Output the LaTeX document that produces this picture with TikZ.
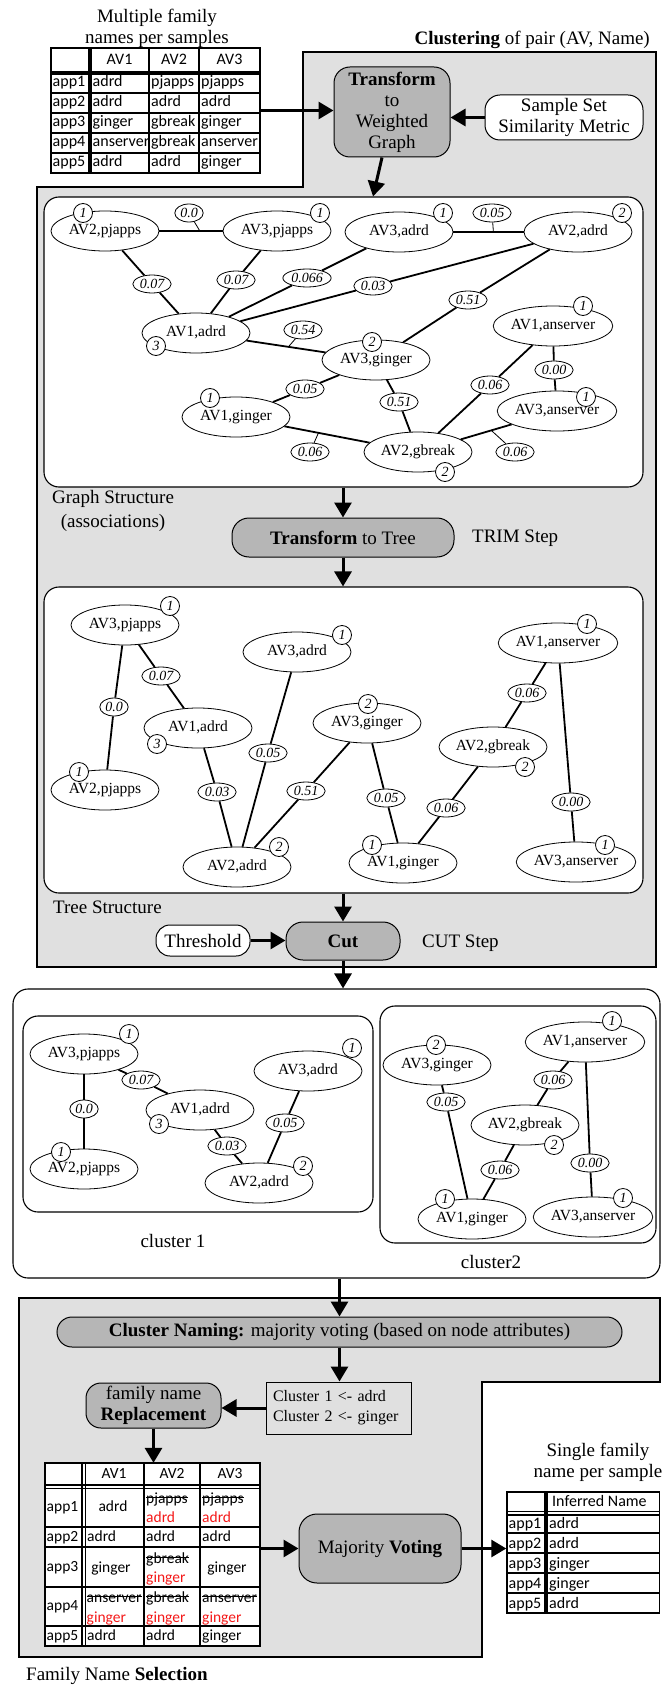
\documentclass[tikz,border=0pt]{standalone}
\usepackage{fontspec}
\setmainfont{Liberation Serif}
\newfontfamily\cellfont{Carlito}
\usetikzlibrary{shapes.geometric,arrows.meta,calc}

\definecolor{regiongray}{RGB}{224,224,224}
\definecolor{stepgray}{RGB}{182,182,182}
\definecolor{fixred}{RGB}{245,25,25}

\newcommand{\labelsize}{\fontsize{19}{21}\selectfont}
\newcommand{\nodesize}{\fontsize{15.5}{17}\selectfont}
\newcommand{\weightsize}{\fontsize{14}{16}\selectfont}
\newcommand{\cellsize}{\cellfont\fontsize{15.5}{18}\selectfont}
\newcommand{\incellsize}{\cellfont\fontsize{16}{18}\selectfont}
\newcommand{\fixed}[1]{\textcolor{fixred}{#1}}
\newsavebox\strikebox
\newcommand{\struck}[1]{\sbox\strikebox{#1}\rlap{\rule[0.3em]{\wd\strikebox}{0.9pt}}\usebox\strikebox}

\tikzset{
  av/.style={ellipse, draw, line width=0.8pt, fill=white, inner sep=0pt,
             minimum width=108pt, minimum height=40pt, font=\nodesize,
             text height=10.5pt, text depth=3.5pt},
  wt/.style={ellipse, draw, line width=0.8pt, fill=white, inner sep=1.3pt,
             minimum height=18pt, font=\weightsize\itshape},
  badge/.style={circle, draw, line width=0.8pt, fill=white, inner sep=0pt,
                minimum size=19pt, font=\weightsize\itshape},
  link/.style={line width=1.8pt},
  tickline/.style={line width=0.8pt},
  flow/.style={line width=3pt, -{Triangle[length=15pt,width=17pt]}},
  stepbox/.style={draw, line width=1pt, fill=stepgray, align=center,
                  font=\labelsize, inner sep=0pt},
  inbox/.style={draw, line width=1pt, fill=white, align=center,
                font=\labelsize, inner sep=0pt},
  panel/.style={draw, line width=1.1pt, fill=white, rounded corners=15pt, inner sep=0pt},
  region/.style={draw, line width=1.8pt, fill=regiongray},
  caption/.style={font=\labelsize, inner sep=0pt, align=center},
  tcell/.style={font=\cellsize, inner sep=0pt, anchor=west, text height=11pt, text depth=3pt},
  ccell/.style={font=\cellsize, inner sep=0pt, text height=11pt, text depth=3pt},
  incell/.style={font=\incellsize, inner sep=0pt, anchor=west, text height=11pt, text depth=3pt},
  tabline/.style={line width=1.8pt},
  tabheavy/.style={line width=3.5pt},
  tabthin/.style={line width=1.4pt},
}

\begin{document}
\begin{tikzpicture}[x=1pt, y=-1pt]
\useasboundingbox (0,0) rectangle (661,1685);
\fill[white] (0,0) rectangle (661,1685);

% ---------- shaded process regions ----------
\draw[region] (303,52) -- (656,52) -- (656,967) -- (37,967) -- (37,187) -- (303,187) -- cycle;
\draw[region] (19,1298) -- (660,1298) -- (660,1382) -- (482,1382) -- (482,1657) -- (19,1657) -- cycle;

% ---------- input table ----------
\node[inner sep=0pt, minimum width=209pt, minimum height=125pt] (tin) at (155.5,110.5) {};
\fill[white] (51,48) rectangle (260,173);
\foreach \y in {93,113,133,153} \draw[tabline] (51,\y) -- (260,\y);
\foreach \x in {149,199} \draw[tabline] (\x,48) -- (\x,173);
\draw[tabheavy] (51,73) -- (260,73);
\draw[tabheavy] (90,48) -- (90,173);
\draw[tabline] (51,48) rectangle (260,173);
\node[incell, anchor=center] at (119.5,61) {AV1};
\node[incell, anchor=center] at (174,61) {AV2};
\node[incell, anchor=center] at (229.5,61) {AV3};
\foreach \r/\a/\b/\c [count=\i] in {app1/adrd/pjapps/pjapps, app2/adrd/adrd/adrd,
    app3/ginger/gbreak/ginger, app4/anserver/gbreak/anserver, app5/adrd/adrd/ginger} {
  \node[incell] at (52.5,63+20*\i) {\r};
  \node[incell] at (92.5,63+20*\i) {\a};
  \node[incell] at (151,63+20*\i) {\b};
  \node[incell] at (201,63+20*\i) {\c};
}
\node[caption] (capin) at (157,28) {Multiple family\\names per samples};

% ---------- clustering stage ----------
\node[caption, anchor=east] (capcl) at (650,40) {\textbf{Clustering} of pair (AV, Name)};
\node[stepbox, rounded corners=16pt, minimum width=116pt, minimum height=90pt] (tw) at (392,112)
  {\textbf{Transform}\\to\\Weighted\\Graph};
\node[inbox, rounded corners=15pt, minimum width=158pt, minimum height=45pt] (ss) at (564,117.5)
  {Sample Set\\Similarity Metric};

\node[panel, minimum width=599pt, minimum height=290pt] (gpanel) at (343.5,342) {};
\node[panel, minimum width=599pt, minimum height=306pt] (tpanel) at (343.5,740) {};

\node[caption] (capgs) at (113,511) {Graph Structure\\[3pt](associations)};
\node[stepbox, rounded corners=17pt, minimum width=222pt, minimum height=39pt] (tt) at (343,537.5)
  {\textbf{Transform} to Tree};
\node[caption, anchor=west] (captrim) at (472,538) {TRIM Step};
\node[caption, anchor=west] (capts) at (53,907) {Tree Structure};
\node[inbox, rounded corners=14pt, minimum width=94pt, minimum height=31pt] (thr) at (203,940.5) {Threshold};
\node[stepbox, rounded corners=17pt, minimum width=114pt, minimum height=38pt] (cut) at (343,941) {\textbf{Cut}};
\node[caption, anchor=west] (capcut) at (422,943) {CUT Step};

% ---------- weighted graph ----------
\node[av] (g-av2pj) at (105,231) {AV2,pjapps};
\node[av] (g-av3pj) at (277,231) {AV3,pjapps};
\node[av] (g-av3ad) at (399,232) {AV3,adrd};
\node[av] (g-av2ad) at (578,232) {AV2,adrd};
\node[av] (g-av1ad) at (196,333) {AV1,adrd};
\node[av] (g-av1an) at (553,326) {AV1,anserver};
\node[av] (g-av3gi) at (376,360) {AV3,ginger};
\node[av] (g-av1gi) at (236,417) {AV1,ginger};
\node[av] (g-av3an) at (557,411) {AV3,anserver};
\node[av] (g-av2gb) at (418,452) {AV2,gbreak};

\node[wt] (gw-a) at (152,284) {0.07};
\node[wt] (gw-b) at (236,280) {0.07};
\node[wt] (gw-c) at (307,278) {0.066};
\node[wt] (gw-d) at (373,286) {0.03};
\node[wt] (gw-e) at (468,300) {0.51};
\node[wt] (gw-f) at (305,389) {0.05};
\node[wt] (gw-g) at (399,402) {0.51};
\node[wt] (gw-h) at (490,385) {0.06};
\node[wt] (gw-i) at (554,370) {0.00};
\node[wt] (gw-j) at (189,213) {0.0};
\node[wt] (gw-k) at (492,213) {0.05};
\node[wt] (gw-l) at (303,330) {0.54};
\node[wt] (gw-m) at (310,452) {0.06};
\node[wt] (gw-n) at (515,452) {0.06};

\draw[link] (g-av2pj) -- coordinate[pos=0.64] (gt-j) (g-av3pj);
\draw[link] (g-av2pj) -- (gw-a) -- (g-av1ad);
\draw[link] (g-av3pj) -- (gw-b) -- (g-av1ad);
\draw[link] (g-av1ad) -- (gw-c) -- (g-av3ad);
\draw[link] (g-av1ad) -- (gw-d) -- (g-av2ad);
\draw[link] (g-av3ad) -- coordinate[pos=0.57] (gt-k) (g-av2ad);
\draw[link] (g-av1ad) -- coordinate[pos=0.53] (gt-l) (g-av3gi);
\draw[link] (g-av3gi) -- (gw-e) -- (g-av2ad);
\draw[link] (g-av1gi) -- (gw-f) -- (g-av3gi);
\draw[link] (g-av3gi) -- (gw-g) -- (g-av2gb);
\draw[link] (g-av1gi) -- coordinate[pos=0.4] (gt-m) (g-av2gb);
\draw[link] (g-av1an) -- (gw-h) -- (g-av2gb);
\draw[link] (g-av1an) -- (gw-i) -- (g-av3an);
\draw[link] (g-av2gb) -- coordinate[pos=0.6] (gt-n) (g-av3an);
\draw[tickline] (gw-j) -- (gt-j);
\draw[tickline] (gw-k) -- (gt-k);
\draw[tickline] (gw-l) -- (gt-l);
\draw[tickline] (gw-m) -- (gt-m);
\draw[tickline] (gw-n) -- (gt-n);

\node[badge] (gb-1) at (83,213) {1};
\node[badge] (gb-2) at (320,213) {1};
\node[badge] (gb-3) at (443,213) {1};
\node[badge] (gb-4) at (622,213) {2};
\node[badge] (gb-5) at (156,346) {3};
\node[badge] (gb-6) at (583,306) {1};
\node[badge] (gb-7) at (372,342) {2};
\node[badge] (gb-8) at (210,398) {1};
\node[badge] (gb-9) at (586,397) {1};
\node[badge] (gb-10) at (445,472) {2};

% ---------- spanning tree ----------
\node[av] (t-av3pj) at (125,625) {AV3,pjapps};
\node[av] (t-av2pj) at (105,790) {AV2,pjapps};
\node[av] (t-av1ad) at (198,728) {AV1,adrd};
\node[av] (t-av3ad) at (297,652) {AV3,adrd};
\node[av] (t-av2ad) at (237,867) {AV2,adrd};
\node[av] (t-av3gi) at (367,723) {AV3,ginger};
\node[av] (t-av1an) at (558,643) {AV1,anserver};
\node[av] (t-av2gb) at (493,747) {AV2,gbreak};
\node[av] (t-av1gi) at (403,863) {AV1,ginger};
\node[av] (t-av3an) at (576,862) {AV3,anserver};

\node[wt] (tw-a) at (161,676) {0.07};
\node[wt] (tw-b) at (114,707) {0.0};
\node[wt] (tw-c) at (268,753) {0.05};
\node[wt] (tw-d) at (217,792) {0.03};
\node[wt] (tw-e) at (306,791) {0.51};
\node[wt] (tw-f) at (527,693) {0.06};
\node[wt] (tw-g) at (386,798) {0.05};
\node[wt] (tw-h) at (446,808) {0.06};
\node[wt] (tw-i) at (571,802) {0.00};

\draw[link] (t-av3pj) -- (tw-b) -- (t-av2pj);
\draw[link] (t-av3pj) -- (tw-a) -- (t-av1ad);
\draw[link] (t-av1ad) -- (tw-d) -- (t-av2ad);
\draw[link] (t-av3ad) -- (tw-c) -- (t-av2ad);
\draw[link] (t-av3gi) -- (tw-e) -- (t-av2ad);
\draw[link] (t-av3gi) -- (tw-g) -- (t-av1gi);
\draw[link] (t-av1gi) -- (tw-h) -- (t-av2gb);
\draw[link] (t-av2gb) -- (tw-f) -- (t-av1an);
\draw[link] (t-av1an) -- (tw-i) -- (t-av3an);

\node[badge] (tb-1) at (170,606) {1};
\node[badge] (tb-2) at (79,772) {1};
\node[badge] (tb-3) at (157,744) {3};
\node[badge] (tb-4) at (342,635) {1};
\node[badge] (tb-5) at (279,847) {2};
\node[badge] (tb-6) at (368,704) {2};
\node[badge] (tb-7) at (587,624) {1};
\node[badge] (tb-8) at (525,767) {2};
\node[badge] (tb-9) at (372,845) {1};
\node[badge] (tb-10) at (605,845) {1};

% ---------- clusters after the cut ----------
\node[panel, minimum width=647pt, minimum height=289pt] (clbox) at (336.5,1133.5) {};
\node[panel, minimum width=350pt, minimum height=196pt] (c1box) at (198,1114) {};
\node[panel, minimum width=276pt, minimum height=237pt] (c2box) at (518,1124.5) {};
\node[caption] (capc1) at (173,1241) {cluster 1};
\node[caption] (capc2) at (491,1262) {cluster2};

\node[av] (c-av3pj) at (84,1054) {AV3,pjapps};
\node[av] (c-av2pj) at (84,1169) {AV2,pjapps};
\node[av] (c-av1ad) at (200,1110) {AV1,adrd};
\node[av] (c-av3ad) at (308,1071) {AV3,adrd};
\node[av] (c-av2ad) at (259,1183) {AV2,adrd};
\node[wt] (cw-a) at (141,1080) {0.07};
\node[wt] (cw-b) at (84,1109) {0.0};
\node[wt] (cw-c) at (227,1146) {0.03};
\node[wt] (cw-d) at (285,1123) {0.05};
\draw[link] (c-av3pj) -- (cw-b) -- (c-av2pj);
\draw[link] (c-av3pj) -- (cw-a) -- (c-av1ad);
\draw[link] (c-av1ad) -- (cw-c) -- (c-av2ad);
\draw[link] (c-av3ad) -- (cw-d) -- (c-av2ad);
\node[badge] (cb-1) at (129,1034) {1};
\node[badge] (cb-2) at (61,1152) {1};
\node[badge] (cb-3) at (159,1124) {3};
\node[badge] (cb-4) at (352,1048) {1};
\node[badge] (cb-5) at (303,1166) {2};

\node[av] (c-av3gi) at (437,1065) {AV3,ginger};
\node[av] (c-av1an) at (585,1042) {AV1,anserver};
\node[av] (c-av2gb) at (525,1125) {AV2,gbreak};
\node[av] (c-av1gi) at (472,1219) {AV1,ginger};
\node[av] (c-av3an) at (593,1217) {AV3,anserver};
\node[wt] (cw-e) at (553,1080) {0.06};
\node[wt] (cw-f) at (446,1102) {0.05};
\node[wt] (cw-g) at (500,1170) {0.06};
\node[wt] (cw-h) at (590,1163) {0.00};
\draw[link] (c-av1an) -- (cw-e) -- (c-av2gb);
\draw[link] (c-av3gi) -- (cw-f) -- (c-av1gi);
\draw[link] (c-av1gi) -- (cw-g) -- (c-av2gb);
\draw[link] (c-av1an) -- (cw-h) -- (c-av3an);
\node[badge] (cb-6) at (436,1045) {2};
\node[badge] (cb-7) at (612,1021) {1};
\node[badge] (cb-8) at (554,1145) {2};
\node[badge] (cb-9) at (445,1199) {1};
\node[badge] (cb-10) at (623,1198) {1};

% ---------- family name selection ----------
\node[stepbox, rounded corners=15pt, minimum width=565pt, minimum height=30pt] (cn) at (339.5,1332)
  {\textbf{Cluster Naming:} majority voting (based on node attributes)};
\node[draw, line width=1pt, fill=regiongray, minimum width=145pt, minimum height=52pt,
      inner xsep=7pt, inner ysep=0pt, text width=131pt, align=left,
      font=\fontsize{16}{20}\selectfont] (cbox) at (338.5,1408)
  {Cluster 1 <- adrd\\Cluster 2 <- ginger};
\node[stepbox, rounded corners=15pt, minimum width=135pt, minimum height=45pt] (repl) at (153.5,1405.5)
  {family name\\\textbf{Replacement}};
\node[stepbox, rounded corners=18pt, minimum width=162pt, minimum height=69pt] (mv) at (380,1548.5)
  {Majority \textbf{Voting}};
\node[caption, anchor=west] (capfs) at (26,1676) {Family Name \textbf{Selection}};

% table with replaced names
\node[inner sep=0pt, minimum width=215pt, minimum height=183pt] (tsel) at (152.5,1554.5) {};
\fill[white] (45,1463) rectangle (260,1646);
\foreach \y in {1527,1547,1587,1626} \draw[tabline] (45,\y) -- (260,\y);
\foreach \x in {144,200} \draw[tabline] (\x,1463) -- (\x,1646);
\draw[tabthin] (45,1485) -- (260,1485);
\draw[tabthin] (45,1488.5) -- (260,1488.5);
\draw[tabthin] (82,1463) -- (82,1646);
\draw[tabthin] (85.5,1463) -- (85.5,1646);
\draw[tabline] (45,1463) rectangle (260,1646);
\node[ccell] at (114,1474.5) {AV1};
\node[ccell] at (172,1474.5) {AV2};
\node[ccell] at (230,1474.5) {AV3};
\node[tcell] at (46.5,1507) {app1};
\node[tcell] at (46.5,1537) {app2};
\node[tcell] at (46.5,1567) {app3};
\node[tcell] at (46.5,1606.5) {app4};
\node[tcell] at (46.5,1636) {app5};
% app1
\node[ccell] at (113,1507) {adrd};
\node[tcell] at (146,1499) {\struck{pjapps}};
\node[tcell] at (146,1518) {\fixed{adrd}};
\node[tcell] at (202,1499) {\struck{pjapps}};
\node[tcell] at (202,1518) {\fixed{adrd}};
% app2
\node[tcell] at (87,1537) {adrd};
\node[tcell] at (146,1537) {adrd};
\node[tcell] at (202,1537) {adrd};
% app3
\node[ccell] at (111,1568) {ginger};
\node[tcell] at (146,1559) {\struck{gbreak}};
\node[tcell] at (146,1578) {\fixed{ginger}};
\node[ccell] at (227,1568) {ginger};
% app4
\node[tcell] at (86.5,1598) {\struck{anserver}};
\node[tcell] at (86.5,1618) {\fixed{ginger}};
\node[tcell] at (146,1598) {\struck{gbreak}};
\node[tcell] at (146,1618) {\fixed{ginger}};
\node[tcell] at (202,1598) {\struck{anserver}};
\node[tcell] at (202,1618) {\fixed{ginger}};
% app5
\node[tcell] at (87,1636) {adrd};
\node[tcell] at (146,1636) {adrd};
\node[tcell] at (202,1636) {ginger};

% output table
\node[caption] (capout) at (598,1462) {Single family\\name per sample};
\node[inner sep=0pt, minimum width=153pt, minimum height=121pt] (tout) at (583,1552.5) {};
\fill[white] (507,1492) rectangle (659.5,1613);
\foreach \y in {1533,1553,1573,1593} \draw[tabline] (507,\y) -- (659.5,\y);
\draw[tabthin] (507,1511.5) -- (659.5,1511.5);
\draw[tabthin] (507,1515) -- (659.5,1515);
\draw[tabheavy] (546,1492) -- (546,1613);
\draw[tabline] (507,1492) rectangle (659.5,1613);
\node[incell] at (552,1502) {Inferred Name};
\foreach \r/\v [count=\i] in {app1/adrd, app2/adrd, app3/ginger, app4/ginger, app5/adrd} {
  \node[incell] at (508.5,1504+20*\i) {\r};
  \node[incell] at (549,1504+20*\i) {\v};
}

% ---------- flow arrows ----------
\draw[flow] (tin.east) -- (tin.east -| tw.west);
\draw[flow] (ss.west) -- (ss.west -| tw.east);
\draw[flow] ($(tw.south)+(-10,0)$) -- ($(gpanel.north)+(29.5,0)$);
\draw[flow] (tt.north |- gpanel.south) -- (tt.north);
\draw[flow] (tt.south) -- (tt.south |- tpanel.north);
\draw[flow] (cut.north |- tpanel.south) -- (cut.north);
\draw[flow] (thr.east) -- (thr.east -| cut.west);
\draw[flow] (cut.south) -- (cut.south |- clbox.north);
\draw[flow] (cn.north |- clbox.south) -- (cn.north);
\draw[flow] (cn.south) -- (cn.south |- cbox.north);
\draw[flow] (cbox.west) -- (cbox.west -| repl.east);
\draw[flow] (repl.south) -- (repl.south |- tsel.north);
\draw[flow] (mv.west -| tsel.east) -- (mv.west);
\draw[flow] (mv.east) -- (mv.east -| tout.west);
\end{tikzpicture}
\end{document}
